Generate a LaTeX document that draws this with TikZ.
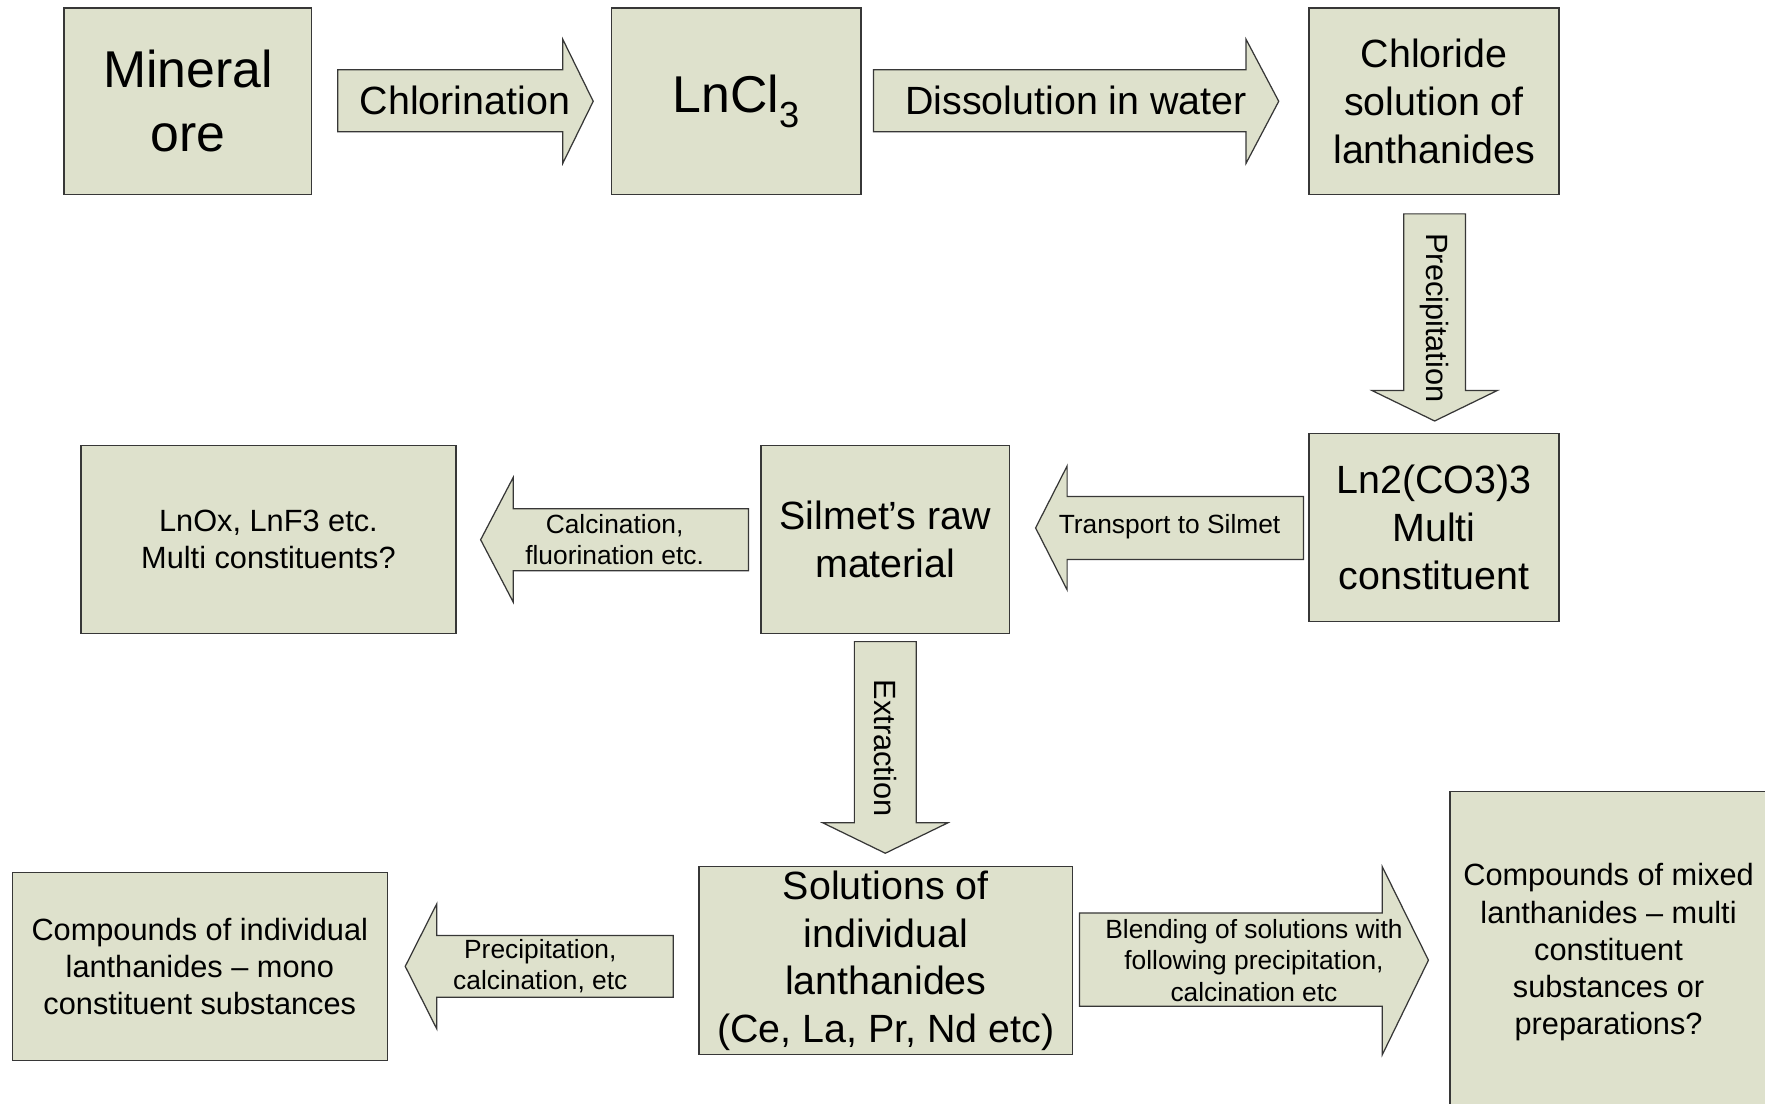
\documentclass[tikz,border=0pt]{standalone}
\usepackage{fontspec}
\setmainfont{Liberation Sans}
\definecolor{boxfill}{RGB}{222,225,204}
\definecolor{boxline}{RGB}{55,55,55}
\begin{document}
\begin{tikzpicture}[x=1pt,y=-1pt,
  box/.style={draw=boxline, fill=boxfill, line width=1.2pt, inner sep=0pt, align=center},
  blockarrow/.style={draw=boxline, fill=boxfill, line width=1.1pt, line join=miter},
  lbl/.style={inner sep=0pt, align=center},
  fbig/.style={font=\fontsize{46pt}{57pt}\selectfont},
  fmid/.style={font=\fontsize{35pt}{42.5pt}\selectfont},
  fsm/.style={font=\fontsize{27.3pt}{33pt}\selectfont},
  fxs/.style={font=\fontsize{23.4pt}{28pt}\selectfont}]
\useasboundingbox (0,0) rectangle (1568,980);

% boxes
\node[box, fbig, minimum width=220pt, minimum height=166pt] (ore) at (167,90) {Mineral\\ore};
\node[box, fbig, minimum width=222pt, minimum height=166pt] (lncl) at (654,90) {LnCl\textsubscript{3}};
\node[box, fmid, minimum width=222pt, minimum height=166pt] (chl) at (1274,90) {Chloride\\solution of\\lanthanides};
\node[box, fmid, minimum width=222pt, minimum height=167pt] (carb) at (1274,468.5) {Ln2(CO3)3\\Multi\\constituent};
\node[box, fmid, minimum width=221pt, minimum height=167pt] (silmet) at (786.5,479.5) {Silmet’s raw\\material};
\node[box, fsm, minimum width=333pt, minimum height=167pt] (lnox) at (238.5,479.5) {LnOx, LnF3 etc.\\Multi constituents?};
\node[box, fmid, minimum width=332pt, minimum height=167pt] (sol) at (787,853.5) {Solutions of\\individual\\lanthanides\\(Ce, La, Pr, Nd etc)};
\node[box, fsm, minimum width=333pt, minimum height=167pt] (indiv) at (177.5,858.5) {Compounds of individual\\lanthanides – mono\\constituent substances};
\begin{scope}
  \clip (0,0) rectangle (1568,980);
  \node[box, fsm, minimum width=282pt, minimum height=286pt] (mixed) at (1429,846) {Compounds of mixed\\lanthanides – multi\\constituent\\substances or\\preparations?};
\end{scope}

% block arrows
\draw[blockarrow] (300,62) -- (500,62) -- (500,35) -- (527,90) -- (500,145) -- (500,117) -- (300,117) -- cycle;
\node[lbl, fmid] (a1) at (413,89) {Chlorination};

\draw[blockarrow] (776,62) -- (1107,62) -- (1107,35) -- (1136,90) -- (1107,145) -- (1107,117) -- (776,117) -- cycle;
\node[lbl, fmid] (a2) at (956,89) {Dissolution in water};

\draw[blockarrow] (1247,190) -- (1302,190) -- (1302,347) -- (1330,347) -- (1274.5,374) -- (1219,347) -- (1247,347) -- cycle;
\node[lbl, fsm, rotate=-90] (a3) at (1274.5,282.5) {Precipitation};

\draw[blockarrow] (1158,441) -- (948,441) -- (948,414) -- (920,469) -- (948,524) -- (948,497) -- (1158,497) -- cycle;
\node[lbl, fxs] (a4) at (1039,468) {Transport to Silmet};

\draw[blockarrow] (665,452) -- (456,452) -- (456,424) -- (427,479.5) -- (456,535) -- (456,507) -- (665,507) -- cycle;
\node[lbl, fxs] (a5) at (546,479.5) {Calcination,\\fluorination etc.};

\draw[blockarrow] (759,570) -- (814,570) -- (814,731) -- (842,731) -- (786.5,758) -- (731,731) -- (759,731) -- cycle;
\node[lbl, fsm, rotate=-90] (a6) at (786.5,664.5) {Extraction};

\draw[blockarrow] (598,831) -- (388,831) -- (388,803) -- (360,858.5) -- (388,914) -- (388,886) -- (598,886) -- cycle;
\node[lbl, fxs] (a7) at (480,858.5) {Precipitation,\\calcination, etc};

\draw[blockarrow] (959,811) -- (1228,811) -- (1228,770) -- (1269,853) -- (1228,937) -- (1228,894) -- (959,894) -- cycle;
\node[lbl, fxs] (a8) at (1114,853) {Blending of solutions with\\following precipitation,\\calcination etc};
\end{tikzpicture}
\end{document}
